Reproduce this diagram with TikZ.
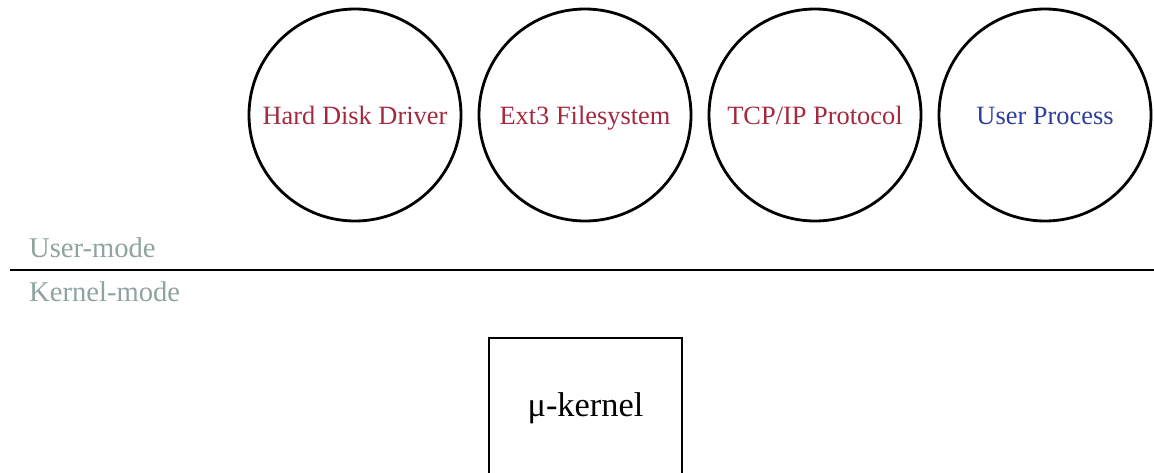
\documentclass[tikz,border=0pt]{standalone}
\usepackage{fontspec}
\setmainfont{Liberation Serif}
\definecolor{svcred}{HTML}{A3293D}
\definecolor{usrblue}{HTML}{2E3E9E}
\definecolor{modegray}{HTML}{8FA3A0}
\begin{document}
\begin{tikzpicture}[x=1pt,y=-1pt,
  svc/.style={circle,draw=black,line width=2.8pt,minimum size=212pt,inner sep=0pt,text height=24pt,text depth=6pt,font=\fontsize{26.4}{30}\selectfont},
  modelbl/.style={anchor=west,text=modegray,inner sep=0pt,font=\fontsize{28.6}{32}\selectfont},
  kbox/.style={draw=black,line width=2.8pt,minimum width=193pt,minimum height=140pt,inner sep=0pt,font=\fontsize{34.4}{40}\selectfont}]
\useasboundingbox (0,0) rectangle (1154,472);
\clip (0,0) rectangle (1154,472);
\node[svc,text=svcred] (hdd) at (355,115) {Hard Disk Driver};
\node[svc,text=svcred] (ext) at (585,115) {Ext3 Filesystem};
\node[svc,text=svcred] (tcp) at (815,115) {TCP/IP Protocol};
\node[svc,text=usrblue] (usr) at (1045,115) {User Process};
\coordinate (lineL) at (10,270);
\coordinate (lineR) at (1154,270);
\draw[line width=2.8pt] (lineL) -- (lineR);
\node[modelbl] (um) at (29,248) {User-mode};
\node[modelbl] (km) at (29,292) {Kernel-mode};
\node[kbox] (mk) at (585.5,408) {μ-kernel};
\end{tikzpicture}
\end{document}
